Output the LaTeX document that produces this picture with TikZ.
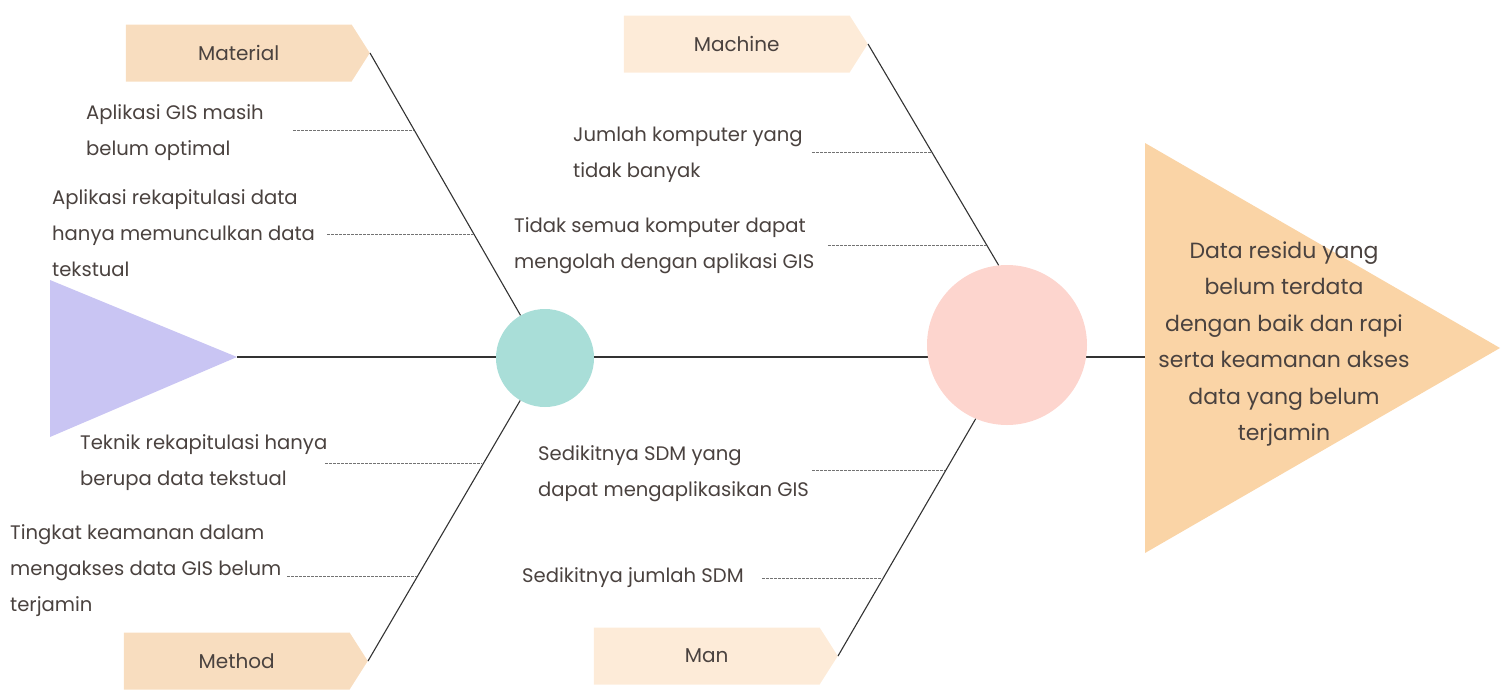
\documentclass[tikz,border=0pt]{standalone}
\usepackage{fontspec}
\setmainfont{Poppins}
\usetikzlibrary{shapes.symbols}
\definecolor{ink}{HTML}{4A423F}
\definecolor{lavender}{HTML}{C9C5F3}
\definecolor{mint}{HTML}{A9DED8}
\definecolor{blush}{HTML}{FDD5CE}
\definecolor{peach}{HTML}{FAD4A6}
\definecolor{sand}{HTML}{F8DDBF}
\definecolor{cream}{HTML}{FDEBD8}

\begin{document}
\begin{tikzpicture}[x=1pt, y=-1pt,
  tag/.style={signal, signal to=east, signal pointer angle=115, minimum width=244pt, minimum height=57pt, inner sep=0pt, anchor=east, font=\fontsize{20}{36}\selectfont, text=ink},
  note/.style={anchor=west, align=left, inner sep=0pt, font=\fontsize{19.6}{36}\selectfont, text=ink},
  hub/.style={circle, inner sep=0pt},
  bone/.style={draw=black!80, line width=1.1pt},
  sub/.style={draw=black!55, line width=0.6pt, dash pattern=on 2.5pt off 1.5pt}
]
\useasboundingbox (0,0) rectangle (1505,691);

% Head and tail
\fill[lavender] (50,280) -- (237,357) -- (50,437) -- cycle;
\fill[peach] (1145,143) -- (1500,348) -- (1145,553) -- cycle;
\coordinate (tail) at (237,357);
\coordinate (head) at (1145,357);
\node[align=center, text=ink, font=\fontsize{22}{36.5}\selectfont] (effect) at (1284,344) {Data residu yang\\belum terdata\\dengan baik dan rapi\\serta keamanan akses\\data yang belum\\terjamin};

% Spine
\draw[bone] (tail) -- (head);
\node[hub, fill=mint, minimum size=98pt] (hub1) at (545,358) {};
\node[hub, fill=blush, minimum size=160pt] (hub2) at (1007,345) {};

% Categories
\node[tag, fill=sand] (mat) at (370,53) {Material};
\node[tag, fill=cream] (mach) at (868,44) {Machine};
\node[tag, fill=sand] (meth) at (368,661) {Method};
\node[tag, fill=cream] (man) at (838,656) {Man};

% Bones
\draw[bone] (mat.east) -- (hub1);
\draw[bone] (meth.east) -- (hub1);
\draw[bone] (mach.east) -- (hub2.96);
\draw[bone] (man.east) -- (hub2.247);

% Causes
\node[note] (c1) at (86,133) {Aplikasi GIS masih\\belum optimal};
\node[note] (c2) at (52,233) {Aplikasi rekapitulasi data\\hanya memunculkan data\\tekstual};
\node[note] (c3) at (573,155) {Jumlah komputer yang\\tidak banyak};
\node[note] (c4) at (514,246) {Tidak semua komputer dapat\\mengolah dengan aplikasi GIS};
\node[note] (c5) at (80,463) {Teknik rekapitulasi hanya\\berupa data tekstual};
\node[note] (c6) at (10,571) {Tingkat keamanan dalam\\mengakses data GIS belum\\terjamin};
\node[note] (c7) at (538,474) {Sedikitnya SDM yang\\dapat mengaplikasikan GIS};
\node[note] (c8) at (522,578) {Sedikitnya jumlah SDM};

% Ticks
\coordinate (s1) at (293,130); \coordinate (e1) at (414,130);
\coordinate (s2) at (327,234); \coordinate (e2) at (474,234);
\coordinate (s3) at (812,152); \coordinate (e3) at (931,152);
\coordinate (s4) at (828,245); \coordinate (e4) at (986,245);
\coordinate (s5) at (325,463); \coordinate (e5) at (482,463);
\coordinate (s6) at (287,576); \coordinate (e6) at (417,576);
\coordinate (s7) at (812,470); \coordinate (e7) at (945,470);
\coordinate (s8) at (762,578); \coordinate (e8) at (883,578);
\foreach \i in {1,...,8} \draw[sub] (s\i) -- (e\i);

\end{tikzpicture}
\end{document}
